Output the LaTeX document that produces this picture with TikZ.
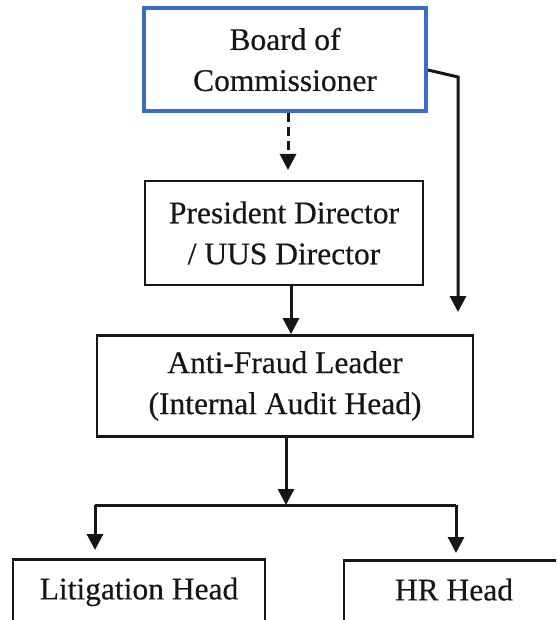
\documentclass[tikz,border=0pt]{standalone}
\usepackage{fontspec}
\setmainfont{Liberation Serif}[FakeBold=0.35]
\usetikzlibrary{arrows.meta}
\definecolor{boardblue}{RGB}{58,108,200}
\definecolor{ink}{RGB}{22,22,22}
\tikzset{
  box/.style={draw=ink, line width=2.8pt, fill=white, align=center, inner sep=0pt,
    font=\fontsize{31.5}{41}\selectfont, text=ink},
  arr/.style={draw=ink, line width=3pt, -{Triangle[width=16pt,length=16pt]}},
  plain/.style={draw=ink, line width=3pt},
}
\begin{document}
\begin{tikzpicture}[x=1pt,y=-1pt]
\useasboundingbox[fill=white] (0,0) rectangle (556,620);
\begin{scope}
\clip (0,0) rectangle (556,620);
\node[box, draw=boardblue, line width=4pt, minimum width=282pt, minimum height=103pt] (board) at (285,59.5) {Board of\\Commissioner};
\node[box, minimum width=278pt, minimum height=104pt] (pres) at (284,233) {President Director\\/ UUS Director};
\node[box, minimum width=376pt, minimum height=101pt] (af) at (285,386) {Anti-Fraud Leader\\(Internal Audit Head)};
\node[box, anchor=north, minimum width=252pt, text height=22pt, text depth=60pt, inner ysep=18pt] (lit) at (139,558) {Litigation Head};
\node[box, anchor=north, minimum width=220pt, text height=22pt, text depth=60pt, inner ysep=18pt] (hr) at (454,559) {HR Head};

\coordinate (dtip) at (288,170);
\coordinate (rb) at (458,77);
\coordinate (rtip) at (458,312);
\coordinate (j) at (286,505);
\coordinate (jl) at (95,505);
\coordinate (jr) at (456,505);
\coordinate (ltip) at (95,550);
\coordinate (rtip2) at (456,553);

\draw[arr, dash pattern=on 9pt off 5pt] (board.south -| dtip) -- (dtip);
\draw[arr] (board.east |- 0,70) -- (rb) -- (rtip);
\draw[arr] (pres.south -| 291,0) -- (af.north -| 291,0);
\draw[arr] (af.south -| j) -- (j);
\draw[plain] (jl) -- (jr);
\draw[arr] (jl) -- (ltip);
\draw[arr] (jr) -- (rtip2);
\end{scope}
\end{tikzpicture}
\end{document}
